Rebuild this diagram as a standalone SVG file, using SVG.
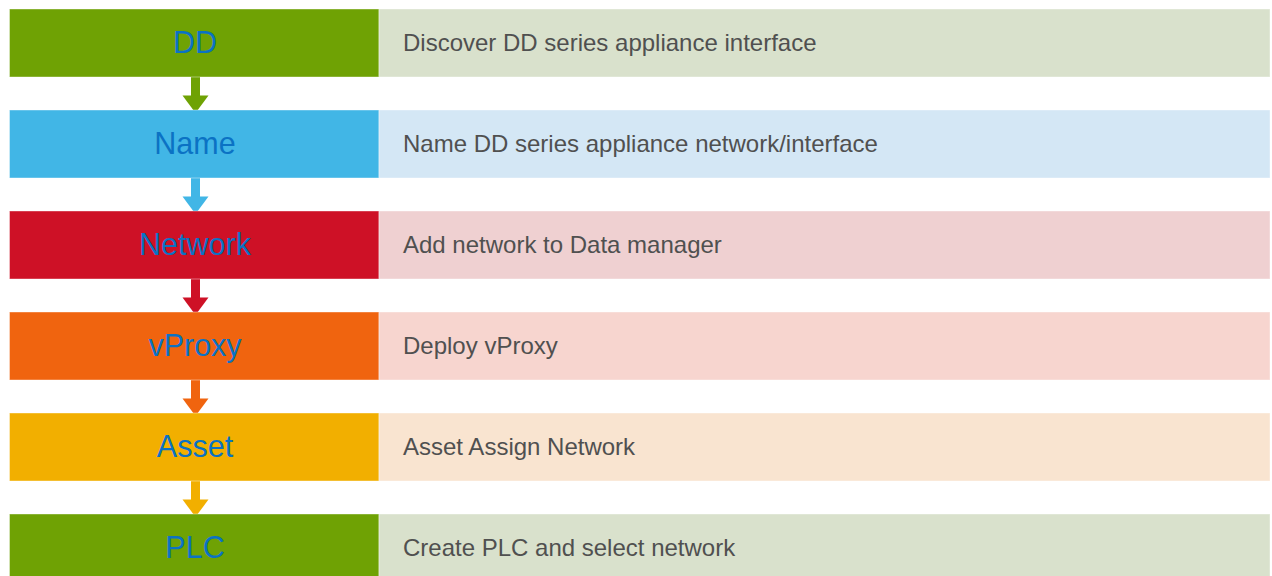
<svg xmlns="http://www.w3.org/2000/svg" width="1272" height="576" viewBox="0 0 1272 576">
<style>
.l{font-family:"Liberation Sans",Arial,sans-serif;font-size:30.5px;fill:#0b72c4;text-anchor:middle}
.r{font-family:"Liberation Sans",Arial,sans-serif;font-size:24px;fill:#505050}
.bx{stroke:#ffffff;stroke-opacity:0.4;stroke-width:1}
</style>
<rect width="1272" height="576" fill="#ffffff"/>
<g id="connectors">
<g fill="#6fa204"><rect x="191" y="77" width="9" height="20"/><polygon points="182.5,95.5 208.5,95.5 195.5,113"/></g>
<g fill="#41b6e6"><rect x="191" y="178" width="9" height="20"/><polygon points="182.5,196.5 208.5,196.5 195.5,214"/></g>
<g fill="#ce1126"><rect x="191" y="279" width="9" height="20"/><polygon points="182.5,297.5 208.5,297.5 195.5,315"/></g>
<g fill="#f0640f"><rect x="191" y="380" width="9" height="20"/><polygon points="182.5,398.5 208.5,398.5 195.5,416"/></g>
<g fill="#f2af00"><rect x="191" y="481" width="9" height="20"/><polygon points="182.5,499.5 208.5,499.5 195.5,517"/></g>
</g>
<g id="dd"><rect class="bx" x="9.5" y="9" width="369.5" height="68" fill="#6fa204"/><rect class="bx" x="379" y="9" width="891" height="68" fill="#d9e1cc"/><text class="l" x="195" y="53">DD</text><text class="r" x="403" y="51">Discover DD series appliance interface</text></g>
<g id="name"><rect class="bx" x="9.5" y="110" width="369.5" height="68" fill="#41b6e6"/><rect class="bx" x="379" y="110" width="891" height="68" fill="#d4e7f5"/><text class="l" x="195" y="154">Name</text><text class="r" x="403" y="152">Name DD series appliance network/interface</text></g>
<g id="network"><rect class="bx" x="9.5" y="211" width="369.5" height="68" fill="#ce1126"/><rect class="bx" x="379" y="211" width="891" height="68" fill="#efd0d1"/><text class="l" x="195" y="255">Network</text><text class="r" x="403" y="253">Add network to Data manager</text></g>
<g id="vproxy"><rect class="bx" x="9.5" y="312" width="369.5" height="68" fill="#f0640f"/><rect class="bx" x="379" y="312" width="891" height="68" fill="#f7d5cf"/><text class="l" x="195" y="356">vProxy</text><text class="r" x="403" y="354">Deploy vProxy</text></g>
<g id="asset"><rect class="bx" x="9.5" y="413" width="369.5" height="68" fill="#f2af00"/><rect class="bx" x="379" y="413" width="891" height="68" fill="#f9e4d0"/><text class="l" x="195" y="457">Asset</text><text class="r" x="403" y="455">Asset Assign Network</text></g>
<g id="plc"><rect class="bx" x="9.5" y="514" width="369.5" height="68" fill="#6fa204"/><rect class="bx" x="379" y="514" width="891" height="68" fill="#d9e1cc"/><text class="l" x="195" y="558">PLC</text><text class="r" x="403" y="556">Create PLC and select network</text></g>
</svg>
